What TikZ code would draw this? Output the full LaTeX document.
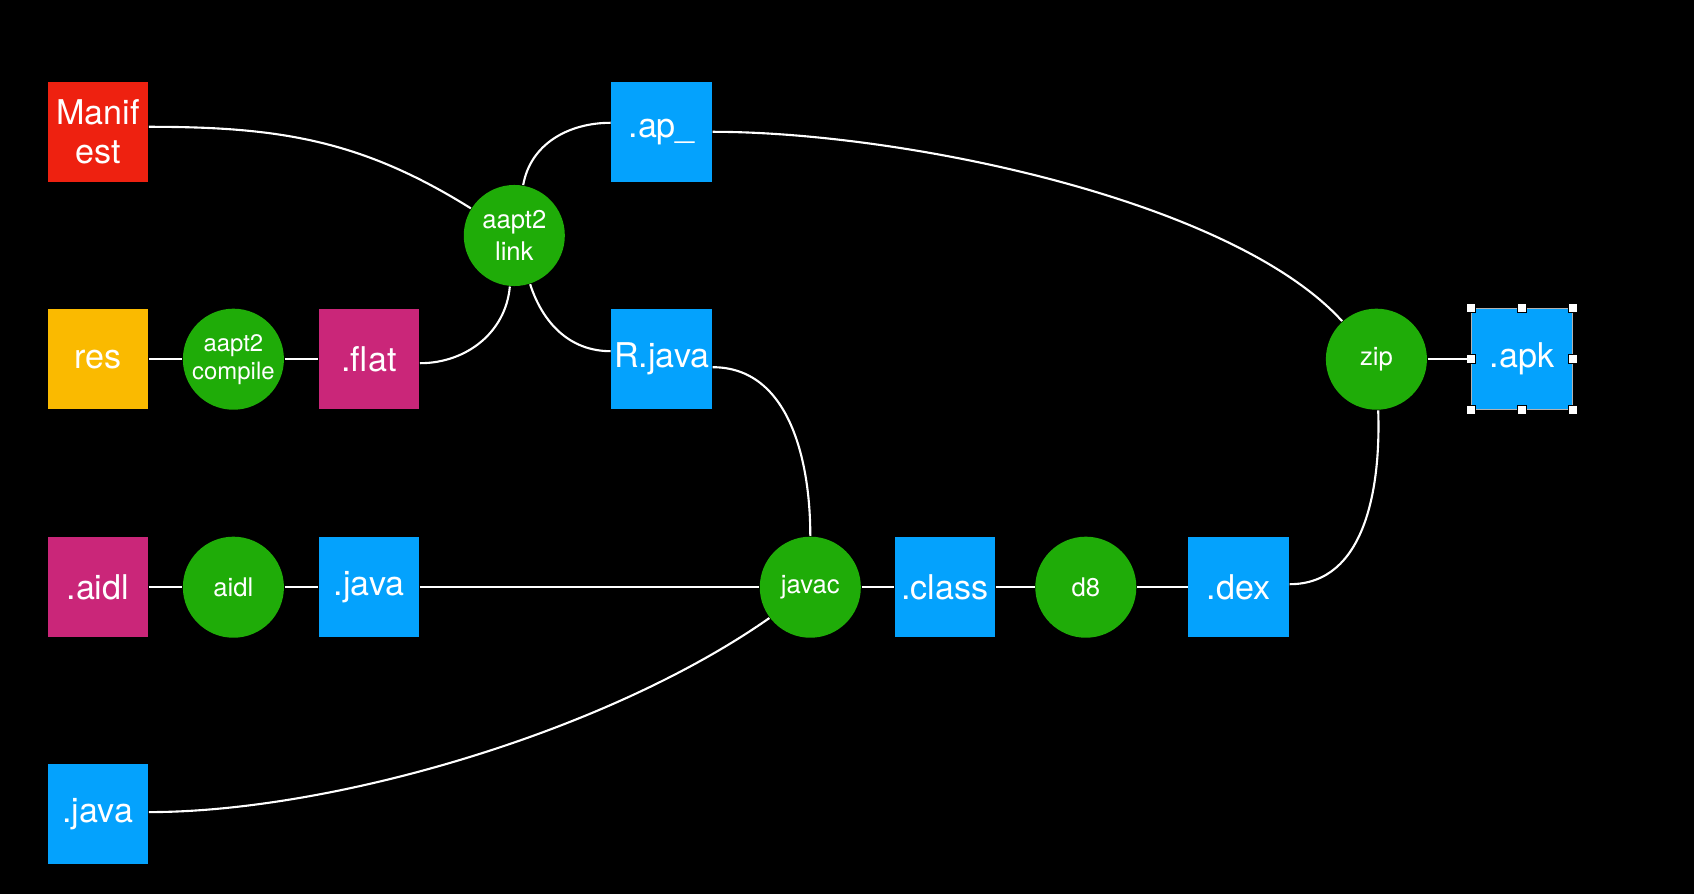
\documentclass[tikz,border=0pt]{standalone}
\usepackage{fontspec}
\setmainfont{TeX Gyre Heros}
\definecolor{cred}{RGB}{238,33,16}
\definecolor{cyellow}{RGB}{250,186,0}
\definecolor{cmag}{RGB}{202,38,121}
\definecolor{cblue}{RGB}{4,162,253}
\definecolor{cgreen}{RGB}{31,172,8}
\begin{document}
\begin{tikzpicture}[x=0.01cm,y=0.01cm,
  box/.style={minimum width=1.005cm, minimum height=1.005cm, inner sep=0pt, text=white, font=\fontsize{9.7}{11.2}\selectfont, align=center},
  proc/.style={circle, fill=cgreen, minimum size=1.01cm, inner sep=0pt, text=white, font=\fontsize{7.3}{8.9}\selectfont, align=center},
  wire/.style={draw=white, line width=0.6pt},
  handle/.style={draw=black, fill=white, minimum size=0.09cm, inner sep=0pt, line width=0.3pt}]
\fill[black] (0,0) rectangle (1694,-894);
\useasboundingbox (0,0) rectangle (1694,-894);

\node[box, fill=cred] (man) at (97.8,-131.8) {Manif\\est};
\node[box, fill=cyellow] (res) at (97.8,-359.2) {res};
\node[proc, font=\fontsize{6.8}{8}\selectfont] (compile) at (233.4,-359.2) {aapt2\\compile};
\node[box, fill=cmag] (flat) at (369.0,-359.2) {.flat};
\node[proc] (link) at (514.3,-235.5) {aapt2\\link};
\node[box, fill=cblue] (ap) at (661.7,-131.8) {.ap\_};
\node[box, fill=cblue] (rjava) at (661.7,-359.2) {R.java};
\node[proc] (zip) at (1376.4,-359.2) {zip};
\node[box, fill=cblue, draw=white!70!black, line width=0.3pt] (apk) at (1521.8,-359.2) {.apk};
\node[box, fill=cmag] (aidlf) at (97.8,-587.2) {.aidl};
\node[proc] (aidl) at (233.4,-587.2) {aidl};
\node[box, fill=cblue] (java1) at (369.0,-587.2) {.java};
\node[proc] (javac) at (810.3,-587.2) {javac};
\node[box, fill=cblue] (class) at (944.8,-587.2) {.class};
\node[proc] (d8) at (1085.8,-587.2) {d8};
\node[box, fill=cblue] (dex) at (1238.7,-587.2) {.dex};
\node[box, fill=cblue] (java2) at (97.8,-814.1) {.java};

\foreach \a in {north west,north,north east,east,south east,south,south west,west}
  \node[handle] at (apk.\a) {};

\draw[wire] (res) -- (compile);
\draw[wire] (compile) -- (flat);
\draw[wire] (aidlf) -- (aidl);
\draw[wire] (aidl) -- (java1);
\draw[wire] (java1) -- (javac);
\draw[wire] (javac) -- (class);
\draw[wire] (class) -- (d8);
\draw[wire] (d8) -- (dex);
\draw[wire] (zip) -- (apk.west);

\draw[wire] ([yshift=0.05cm]man.east) to[out=0,in=148] (link);
\draw[wire] ([yshift=-0.04cm]flat.east) to[out=0,in=-95] (link);
\draw[wire] (link) to[out=80,in=180] ([yshift=0.09cm]ap.west);
\draw[wire] (link) to[out=-72,in=180] ([yshift=0.08cm]rjava.west);
\draw[wire] (ap.east) .. controls +(188,0) and +(-111,122) .. (zip.132);
\draw[wire] ([yshift=-0.08cm]rjava.east) to[out=0,in=90] (javac);
\draw[wire] ([yshift=0.03cm]dex.east) to[out=0,in=-88] (zip);
\draw[wire] ([yshift=0.02cm]java2.east) .. controls +(182,0) and +(-164,-115) .. (javac.217);
\end{tikzpicture}
\end{document}
